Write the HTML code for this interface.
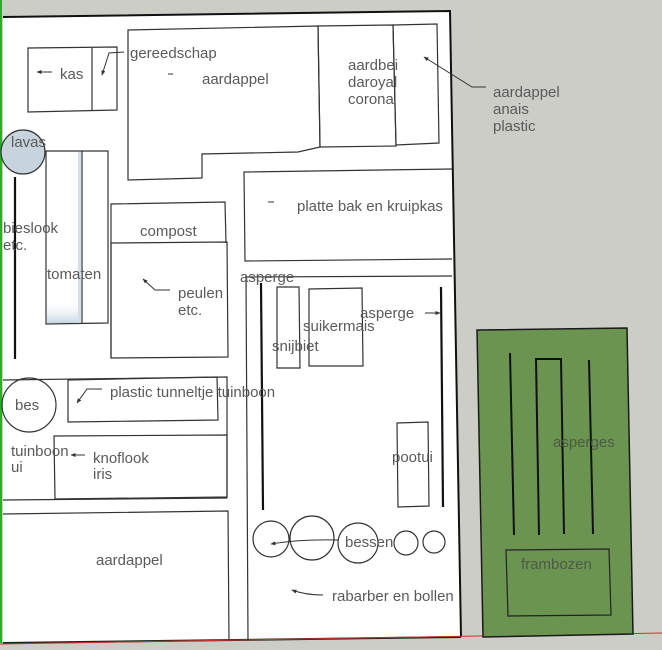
<!DOCTYPE html>
<html>
<head>
<meta charset="utf-8">
<style>
  html,body{margin:0;padding:0;background:#cdcdc8;}
  svg{display:block;}
  text{font-family:"Liberation Sans",sans-serif;font-size:15px;fill:#5a5a5a;}
</style>
</head>
<body>
<svg width="662" height="650" viewBox="0 0 662 650" xmlns="http://www.w3.org/2000/svg">
  <defs>
    <marker id="ah" viewBox="0 0 10 10" refX="9" refY="5" markerWidth="5" markerHeight="5" orient="auto">
      <path d="M0,1 L10,5 L0,9 z" fill="#333"/>
    </marker>
    <linearGradient id="glassB" x1="0" y1="0" x2="0" y2="1">
      <stop offset="0" stop-color="#ffffff" stop-opacity="0"/>
      <stop offset="1" stop-color="#c8d6e4"/>
    </linearGradient>
  </defs>

  <!-- background -->
  <rect x="0" y="0" width="662" height="650" fill="#cdcdc8"/>

  <!-- main white plot -->
  <polygon points="3,17 450,11 461,637 3,643" fill="#ffffff"/>
  <polyline points="3,17 450,11 461,637" fill="none" stroke="#111" stroke-width="2"/>
  <line x1="3" y1="643" x2="461" y2="637" stroke="#222" stroke-width="2"/>

  <!-- axes -->
  <line x1="1" y1="0" x2="1" y2="643" stroke="#22b422" stroke-width="2"/>
  <line x1="0" y1="644" x2="662" y2="633" stroke="#c0392b" stroke-width="1"/>

  <g fill="none" stroke="#333" stroke-width="1.2">
    <!-- kas -->
    <polygon points="28,48 117,47 117,110 28,112"/>
    <line x1="92" y1="48" x2="92" y2="111"/>
    <!-- aardappel top polygon -->
    <polygon points="128,30 318,26 320,147 298,152 202,154 202,178 128,180"/>
    <!-- aardbei -->
    <polygon points="318,26 393,25 396,146 320,147"/>
    <polygon points="393,25 437,24 439,143 396,145"/>
    <!-- platte bak -->
    <polyline points="452,169 244,172 245,261 452,259"/>
    <!-- tomaten -->
    <polygon points="46,151 108,151 108,323 46,324"/>
    <line x1="82" y1="151" x2="82" y2="323"/>
    <!-- compost -->
    <polyline points="111,358 111,204 225,202 226,243"/>
    <polygon points="111,243 227,242 228,357 111,358"/>
    <!-- bottom left section -->
    <polyline points="3,380 227,377 227,498"/>
    <polygon points="68,380 217,377 218,420 68,422"/>
    <polygon points="54,436 227,435 227,497 55,499"/>
    <line x1="3" y1="500" x2="227" y2="498"/>
    <polyline points="3,514 228,511 229,640"/>
    <!-- asperge region -->
    <polyline points="245,277 452,276"/>
    <line x1="246" y1="277" x2="248" y2="640"/>
    <polygon points="277,287 299,287 300,368 277,368"/>
    <polygon points="309,289 362,288 363,366 309,366"/>
    <polygon points="397,423 428,422 429,506 398,507"/>
    <!-- bessen circles -->
    <circle cx="271" cy="539" r="18"/>
    <circle cx="312" cy="538" r="22"/>
    <circle cx="358" cy="543" r="20"/>
    <circle cx="406" cy="543" r="12"/>
    <circle cx="434" cy="542" r="11"/>
    <!-- bes circle -->
    <circle cx="29" cy="405" r="27"/>
  </g>

  <!-- tomaten glass shading -->
  <rect x="47" y="300" width="34" height="23" fill="url(#glassB)"/>
  <rect x="78" y="152" width="3.5" height="170" fill="#d4dfea"/>

  <!-- lavas circle -->
  <circle cx="23" cy="152" r="22" fill="#c7d4de" stroke="#333" stroke-width="1.2"/>

  <!-- thick lines -->
  <g stroke="#111" stroke-width="2.2" fill="none">
    <line x1="15" y1="177" x2="15" y2="359"/>
    <line x1="261" y1="283" x2="263" y2="510"/>
    <line x1="441" y1="287" x2="443" y2="507"/>
  </g>

  <!-- arrows / leaders -->
  <g fill="none" stroke="#333" stroke-width="1" marker-end="url(#ah)">
    <line x1="52" y1="72" x2="37" y2="72"/>
    <polyline points="124,52 109,53 102,75"/>
    <polyline points="486,87 472,87 424,57"/>
    <polyline points="170,290 155,290 143,279"/>
    <line x1="425" y1="313" x2="440" y2="313"/>
    <polyline points="102,389 87,389 77,403"/>
    <line x1="85" y1="455" x2="71" y2="455"/>
    <path d="M338,540 Q300,539 271,544"/>
    <path d="M323,595 Q305,595 292,590"/>
  </g>
  <g stroke="#333" stroke-width="1">
    <line x1="168" y1="74" x2="173" y2="74"/>
    <line x1="268" y1="202" x2="274" y2="202"/>
  </g>

  <!-- green plot -->
  <polygon points="477,330 627,328 633,634 483,637" fill="#6b9450" stroke="#1a1a1a" stroke-width="1.5"/>
  <g stroke="#111" stroke-width="2" fill="none">
    <line x1="510" y1="353" x2="514" y2="535"/>
    <polyline points="539,535 536,359 561,359 564,534"/>
    <line x1="589" y1="360" x2="593" y2="534"/>
  </g>
  <polygon points="506,550 609,549 611,615 508,616" fill="none" stroke="#222" stroke-width="1.2"/>

  <!-- labels -->
  <text x="60" y="79">kas</text>
  <text x="130" y="58">gereedschap</text>
  <text x="202" y="84">aardappel</text>
  <text x="348" y="70">aardbei</text>
  <text x="348" y="87">daroyal</text>
  <text x="348" y="104">corona</text>
  <text x="493" y="97">aardappel</text>
  <text x="493" y="114">anais</text>
  <text x="493" y="131">plastic</text>
  <text x="11" y="147">lavas</text>
  <text x="297" y="211">platte bak en kruipkas</text>
  <text x="3" y="233">bieslook</text>
  <text x="3" y="250">etc.</text>
  <text x="140" y="236">compost</text>
  <text x="47" y="279">tomaten</text>
  <text x="240" y="282">asperge</text>
  <text x="178" y="298">peulen</text>
  <text x="178" y="315">etc.</text>
  <text x="360" y="318">asperge</text>
  <text x="303" y="331">suikermais</text>
  <text x="272" y="351">snijbiet</text>
  <text x="15" y="410">bes</text>
  <text x="110" y="397">plastic tunneltje tuinboon</text>
  <text x="11" y="456">tuinboon</text>
  <text x="11" y="472">ui</text>
  <text x="93" y="463">knoflook</text>
  <text x="93" y="479">iris</text>
  <text x="392" y="462">pootui</text>
  <text x="345" y="547">bessen</text>
  <text x="96" y="565">aardappel</text>
  <text x="332" y="601">rabarber en bollen</text>
  <text x="553" y="447" style="fill:#4d5a45">asperges</text>
  <text x="521" y="569" style="fill:#4d5a45">frambozen</text>
</svg>
</body>
</html>
